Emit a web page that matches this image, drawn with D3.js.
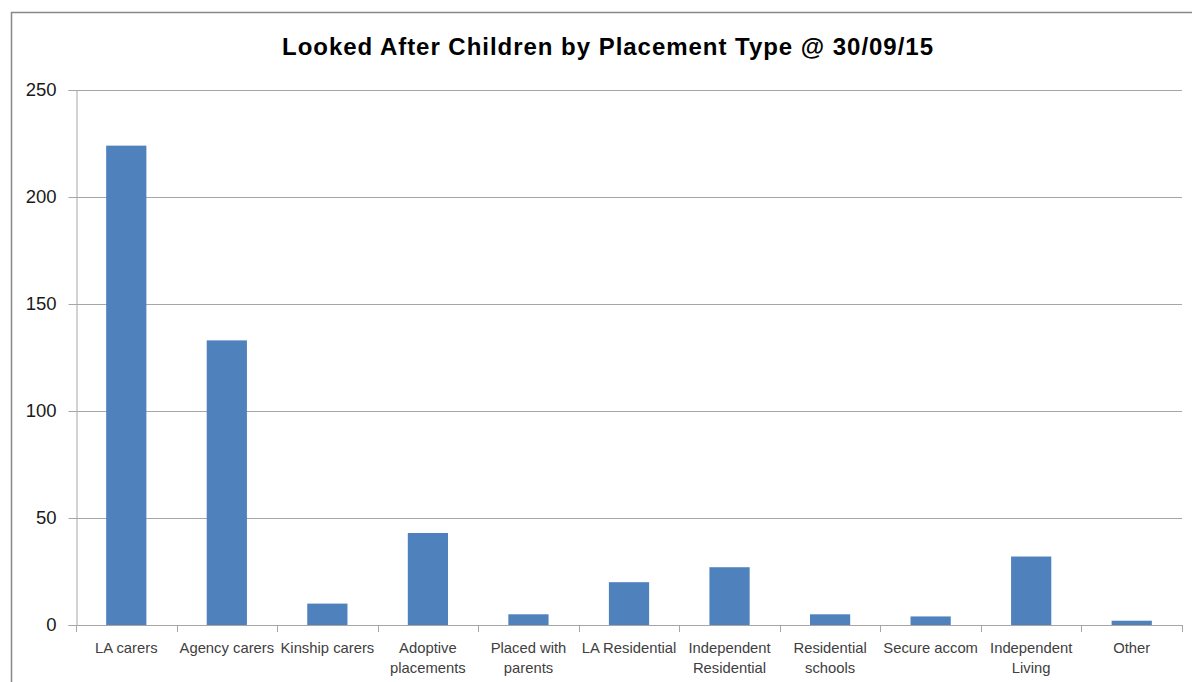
<!DOCTYPE html>
<html>
<head>
<meta charset="utf-8">
<script src="https://cdn.jsdelivr.net/npm/d3@7"></script>
<style>
  html, body { margin: 0; padding: 0; background: #fff; }
  svg { display: block; }
</style>
</head>
<body>
<svg id="chart" width="1192" height="682"></svg>
<script>
// Placement categories (each entry is the list of label lines)
const categories = [
  ["LA carers"],
  ["Agency carers"],
  ["Kinship carers"],
  ["Adoptive", "placements"],
  ["Placed with", "parents"],
  ["LA Residential"],
  ["Independent", "Residential"],
  ["Residential", "schools"],
  ["Secure accom"],
  ["Independent", "Living"],
  ["Other"]
];
const counts = [224, 133, 10, 43, 5, 20, 27, 5, 4, 32, 2];
const yTicks = [0, 50, 100, 150, 200, 250];
const titleText = "Looked After Children by Placement Type @ 30/09/15";

const svg = d3.select("#chart");
const W = 1192, H = 682;
const plot = { left: 76, right: 1182, top: 90, bottom: 625 };
const font = "'Liberation Sans', Arial, sans-serif";
const gridColor = "#a6a6a6";
const textColor = "#404040";

// Outer chart frame (extends past the right and bottom edges)
svg.append("rect")
  .attr("x", 11.5).attr("y", 12.5)
  .attr("width", W + 20).attr("height", H + 20)
  .attr("fill", "#fff")
  .attr("stroke", "#878787").attr("stroke-width", 1.5);

svg.append("text")
  .attr("x", 282).attr("y", 55)
  .attr("font-family", font)
  .attr("font-weight", "bold")
  .attr("font-size", 24)
  .attr("textLength", 651)
  .attr("lengthAdjust", "spacing")
  .attr("fill", "#000")
  .text(titleText);

const keys = categories.map((c, i) => i);
const x = d3.scaleBand().domain(keys).range([plot.left, plot.right])
  .paddingInner(0.6).paddingOuter(0.3);
const band = (plot.right - plot.left) / categories.length;
const y = d3.scaleLinear().domain([0, 250]).range([plot.bottom, plot.top]);

// Horizontal gridlines
svg.append("g")
  .selectAll("line")
  .data(yTicks.filter(t => t > 0))
  .join("line")
  .attr("x1", plot.left).attr("x2", plot.right)
  .attr("y1", d => Math.round(y(d)) + 0.5).attr("y2", d => Math.round(y(d)) + 0.5)
  .attr("stroke", gridColor).attr("stroke-width", 1);

// Y axis
const yAxis = svg.append("g")
  .attr("transform", `translate(${plot.left + 0.5},0)`)
  .call(d3.axisLeft(y).tickValues(yTicks).tickSize(8).tickPadding(12));
yAxis.select(".domain").attr("stroke", gridColor);
yAxis.selectAll(".tick line").attr("stroke", gridColor);
yAxis.selectAll(".tick text")
  .attr("font-family", font).attr("font-size", 18.5).attr("fill", "#1a1a1a");

// Bars
svg.append("g")
  .selectAll("rect")
  .data(counts)
  .join("rect")
  .attr("x", (d, i) => x(i))
  .attr("width", x.bandwidth())
  .attr("y", d => y(d))
  .attr("height", d => y(0) - y(d))
  .attr("fill", "#4f81bd");

// X axis baseline and category boundary ticks
const xAxis = svg.append("g");
xAxis.append("line")
  .attr("x1", plot.left).attr("x2", plot.right)
  .attr("y1", plot.bottom + 0.5).attr("y2", plot.bottom + 0.5)
  .attr("stroke", gridColor);
xAxis.selectAll("line.tick")
  .data(d3.range(categories.length + 1))
  .join("line")
  .attr("class", "tick")
  .attr("x1", i => Math.round(plot.left + i * band) + 0.5)
  .attr("x2", i => Math.round(plot.left + i * band) + 0.5)
  .attr("y1", plot.bottom).attr("y2", plot.bottom + 7)
  .attr("stroke", gridColor);

// Category labels
const labels = svg.append("g")
  .selectAll("text")
  .data(categories)
  .join("text")
  .attr("text-anchor", "middle")
  .attr("font-family", font)
  .attr("font-size", 14.8)
  .attr("fill", textColor)
  .attr("transform", (d, i) => `translate(${x(i) + x.bandwidth() / 2},653)`);
labels.selectAll("tspan")
  .data(d => d)
  .join("tspan")
  .attr("x", 0)
  .attr("y", (d, j) => j * 20)
  .text(d => d);
</script>
</body>
</html>
